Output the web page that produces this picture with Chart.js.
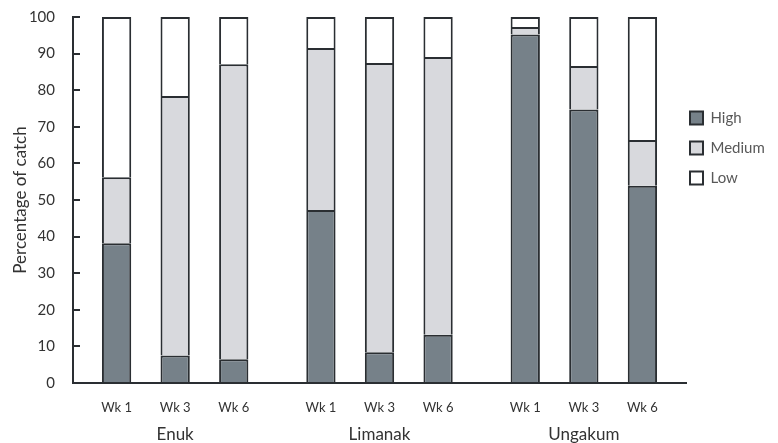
<!DOCTYPE html>
<html lang="en">
<head>
  <meta charset="UTF-8">
  <title>Percentage of catch</title>
  <script src="https://cdn.jsdelivr.net/npm/chart.js@4.4.1/dist/chart.umd.min.js"></script>
  <style>
    html, body { margin: 0; padding: 0; background: #fff; }
    #wrap { width: 778px; height: 443px; }
  </style>
</head>
<body>
  <div id="wrap"><canvas id="catch-chart"></canvas></div>

  <script>
    // Sites on the x axis, weeks are the bars inside each site
    const sites = ['Enuk', 'Limanak', 'Ungakum'];
    const weeks = ['Wk 1', 'Wk 3', 'Wk 6'];
    const levels = ['High', 'Medium', 'Low'];

    // Values per week, one entry per site (Enuk, Limanak, Ungakum)
    const highWk1 = [38.2, 47.3, 95.2];
    const highWk3 = [7.5, 8.4, 74.7];
    const highWk6 = [6.5, 13.2, 53.9];
    const mediumWk1 = [18.0, 44.2, 2.1];
    const mediumWk3 = [70.9, 79.0, 11.9];
    const mediumWk6 = [80.6, 75.9, 12.5];
    const lowWk1 = [43.8, 8.5, 2.7];
    const lowWk3 = [21.6, 12.6, 13.4];
    const lowWk6 = [12.9, 10.9, 33.6];

    const yTicks = [0, 10, 20, 30, 40, 50, 60, 70, 80, 90, 100];

    const seriesValues = {
      High: [highWk1, highWk3, highWk6],
      Medium: [mediumWk1, mediumWk3, mediumWk6],
      Low: [lowWk1, lowWk3, lowWk6]
    };
    const fills = { High: '#768189', Medium: '#d8d9dd', Low: '#ffffff' };
    const edge = '#2a2e32';
    const font = 'Lato, "Open Sans", sans-serif';

    // one dataset per level and week; the week is the stack id
    const datasets = [];
    levels.forEach(level => {
      weeks.forEach((wk, w) => {
        datasets.push({
          label: level,
          level: level,
          stack: wk,
          data: seriesValues[level][w],
          backgroundColor: fills[level],
          borderColor: edge,
          borderWidth: 2,
          categoryPercentage: 0.86,
          barPercentage: 0.5
        });
      });
    });

    // week labels under each bar, placed from the bar elements
    const weekLabels = {
      id: 'weekLabels',
      afterDraw(chart) {
        const ctx = chart.ctx;
        ctx.save();
        ctx.font = '13px ' + font;
        ctx.fillStyle = '#333';
        ctx.textAlign = 'center';
        ctx.textBaseline = 'middle';
        chart.data.datasets.forEach((ds, i) => {
          if (ds.level !== 'High') return;
          chart.getDatasetMeta(i).data.forEach(bar => {
            ctx.fillText(ds.stack, bar.x, chart.chartArea.bottom + 25);
          });
        });
        ctx.restore();
      }
    };

    // pull the legend a bit closer to the plot
    const legendShift = {
      id: 'legendShift',
      afterLayout(chart) {
        chart.legend.left -= 11;
        chart.legend.right -= 11;
      }
    };

    new Chart(document.getElementById('catch-chart'), {
      type: 'bar',
      data: { labels: sites, datasets: datasets },
      plugins: [weekLabels, legendShift],
      options: {
        responsive: true,
        maintainAspectRatio: false,
        animation: false,
        layout: { padding: 0 },
        plugins: {
          tooltip: { enabled: false },
          legend: {
            position: 'right',
            align: 'start',
            maxWidth: 92,
            title: { display: true, text: ' ', padding: { top: 81, bottom: 0 } },
            labels: {
              boxWidth: 13,
              boxHeight: 13,
              padding: 15,
              color: '#595959',
              font: { family: font, size: 15 },
              filter: (item, data) => data.datasets[item.datasetIndex].stack === 'Wk 1'
            }
          }
        },
        scales: {
          x: {
            stacked: true,
            grid: { display: false },
            border: { display: true, color: edge, width: 2 },
            ticks: { color: '#333', font: { family: font, size: 17 }, padding: 33 },
            afterFit(scale) { scale.height = 60; }
          },
          y: {
            stacked: true,
            min: 0,
            max: 100,
            afterBuildTicks(scale) { scale.ticks = yTicks.map(v => ({ value: v })); },
            grid: { drawOnChartArea: false, tickLength: -7, color: edge, lineWidth: 2 },
            border: { display: true, color: edge, width: 2 },
            ticks: { color: '#333', font: { family: font, size: 15 }, padding: 25 },
            title: {
              display: true,
              text: 'Percentage of catch',
              color: '#333',
              font: { family: font, size: 17 },
              padding: { top: 10, bottom: 0 }
            },
            afterFit(scale) {
              scale.width = 73;
              scale.paddingTop = 17;
              scale.paddingBottom = 9;
            }
          }
        }
      }
    });
  </script>
</body>
</html>
